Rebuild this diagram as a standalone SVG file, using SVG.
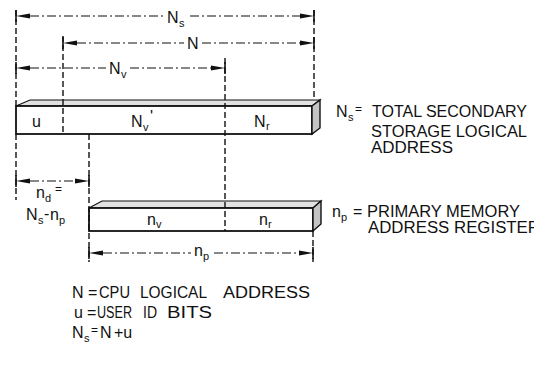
<svg xmlns="http://www.w3.org/2000/svg" width="534" height="367" viewBox="0 0 534 367">
<style>
text{font-family:"Liberation Sans",Arial,Helvetica,sans-serif;fill:#111}
.lbl{font-size:16px}
.sub{font-size:11px}
.eq{font-size:12px}
.face{fill:#fff;stroke:#111;stroke-width:1.8}
.top{fill:#e2e2e2;stroke:#111;stroke-width:1.2}
.side{fill:#c4c4c4;stroke:#111;stroke-width:1.4}
.ext{stroke:#111;stroke-width:1.4;stroke-dasharray:6 3;fill:none}
.dim{stroke:#111;stroke-width:1.1;stroke-dasharray:9 3 2 3;fill:none}
.tick{stroke:#111;stroke-width:1.6}
.ah{fill:#111}
</style>
<defs>
<path id="al" d="M0,0 L14,-2.6 L14,2.6 Z"/>
<path id="ar" d="M0,0 L-14,-2.6 L-14,2.6 Z"/>
</defs>

<g id="bar-secondary">
<polygon class="top" points="16,106 30,100 320,100 312,106"/>
<rect class="face" x="16" y="106" width="296" height="28"/>
<polygon class="side" points="312,106 320,100 320,128 312,134"/>
<text class="lbl" x="32" y="127">u</text>
<text class="lbl" x="131" y="127">N<tspan class="sub" x="143" dy="4">v</tspan><tspan x="150" dy="-9">'</tspan></text>
<text class="lbl" x="254" y="127">N<tspan class="sub" x="266" dy="3">r</tspan></text>
</g>

<g id="bar-primary">
<polygon class="top" points="89,208 102,201 321,201 313,208"/>
<rect class="face" x="89" y="208" width="224" height="23"/>
<polygon class="side" points="313,208 321,201 321,224 313,231"/>
<text class="lbl" x="147" y="225">n<tspan class="sub" x="156" dy="3">v</tspan></text>
<text class="lbl" x="259" y="225">n<tspan class="sub" x="268" dy="3">r</tspan></text>
</g>

<g id="connectors">
<path class="ext" d="M16,10 V106 M16,134 V200 M63,36 V134 M225,58 V231 M314,10 V100 M89,134 V262 M313,231 V262"/>
<path class="tick" d="M16,10 V22 M314,10 V22 M63,37 V49 M314,37 V49 M16,62 V74 M225,62 V74 M16,175 V187 M89,175 V187 M89,247 V259 M313,247 V259"/>
<path class="dim" d="M30,16 H163 M190,16 H300 M77,43 H184 M202,43 H300 M30,68 H106 M130,68 H211 M30,181 H75 M103,253 H191 M214,253 H299"/>
<use href="#al" class="ah" x="16" y="16"/>
<use href="#ar" class="ah" x="314" y="16"/>
<use href="#al" class="ah" x="63" y="43"/>
<use href="#ar" class="ah" x="314" y="43"/>
<use href="#al" class="ah" x="16" y="68"/>
<use href="#ar" class="ah" x="225" y="68"/>
<use href="#al" class="ah" x="16" y="181"/>
<use href="#ar" class="ah" x="89" y="181"/>
<use href="#al" class="ah" x="89" y="253"/>
<use href="#ar" class="ah" x="313" y="253"/>
</g>

<g id="dim-labels">
<text class="lbl" x="167" y="23">N<tspan class="sub" x="179" dy="4">s</tspan></text>
<text class="lbl" x="187" y="49">N</text>
<text class="lbl" x="109" y="74">N<tspan class="sub" x="121" dy="4">v</tspan></text>
<text class="lbl" x="194" y="256">n<tspan class="sub" x="203" dy="4">p</tspan></text>
<text class="lbl" x="36" y="198">n<tspan class="sub" x="45" dy="4">d</tspan><tspan class="eq" x="55" y="193">=</tspan></text>
<text class="lbl" x="26" y="220">N<tspan class="sub" x="38" dy="4">s</tspan><tspan x="44" y="219">-</tspan><tspan x="50" y="220">n</tspan><tspan class="sub" x="59" dy="4">p</tspan></text>
</g>

<g id="legend-secondary">
<text class="lbl" x="336" y="117">N<tspan class="sub" x="348" dy="4">s</tspan><tspan class="eq" x="355" y="113">=</tspan></text>
<text class="lbl" x="372" y="117" textLength="155" lengthAdjust="spacingAndGlyphs">TOTAL SECONDARY</text>
<text class="lbl" x="371" y="137" textLength="156" lengthAdjust="spacingAndGlyphs">STORAGE LOGICAL</text>
<text class="lbl" x="371" y="153" textLength="82" lengthAdjust="spacingAndGlyphs">ADDRESS</text>
</g>

<g id="legend-primary">
<text class="lbl" x="332" y="217">n<tspan class="sub" x="341" dy="4">p</tspan><tspan x="353" y="217">=</tspan></text>
<text class="lbl" x="367" y="217" textLength="153" lengthAdjust="spacingAndGlyphs">PRIMARY MEMORY</text>
<text class="lbl" x="368" y="233" textLength="172" lengthAdjust="spacingAndGlyphs">ADDRESS REGISTER</text>
</g>

<g id="legend">
<text class="lbl" x="72" y="298">N<tspan x="88">=</tspan><tspan x="99" textLength="31" lengthAdjust="spacingAndGlyphs">CPU</tspan><tspan x="140" textLength="67" lengthAdjust="spacingAndGlyphs">LOGICAL</tspan><tspan x="223" textLength="87" lengthAdjust="spacingAndGlyphs">ADDRESS</tspan></text>
<text class="lbl" x="74" y="318">u<tspan x="87">=</tspan><tspan x="97" textLength="35" lengthAdjust="spacingAndGlyphs">USER</tspan><tspan x="143" textLength="14" lengthAdjust="spacingAndGlyphs">ID</tspan><tspan x="167" textLength="45" lengthAdjust="spacingAndGlyphs">BITS</tspan></text>
<text class="lbl" x="72" y="338">N<tspan class="sub" x="84" dy="4">s</tspan><tspan class="eq" x="91" y="334">=</tspan><tspan x="100" y="338">N</tspan><tspan x="114">+u</tspan></text>
</g>
</svg>
